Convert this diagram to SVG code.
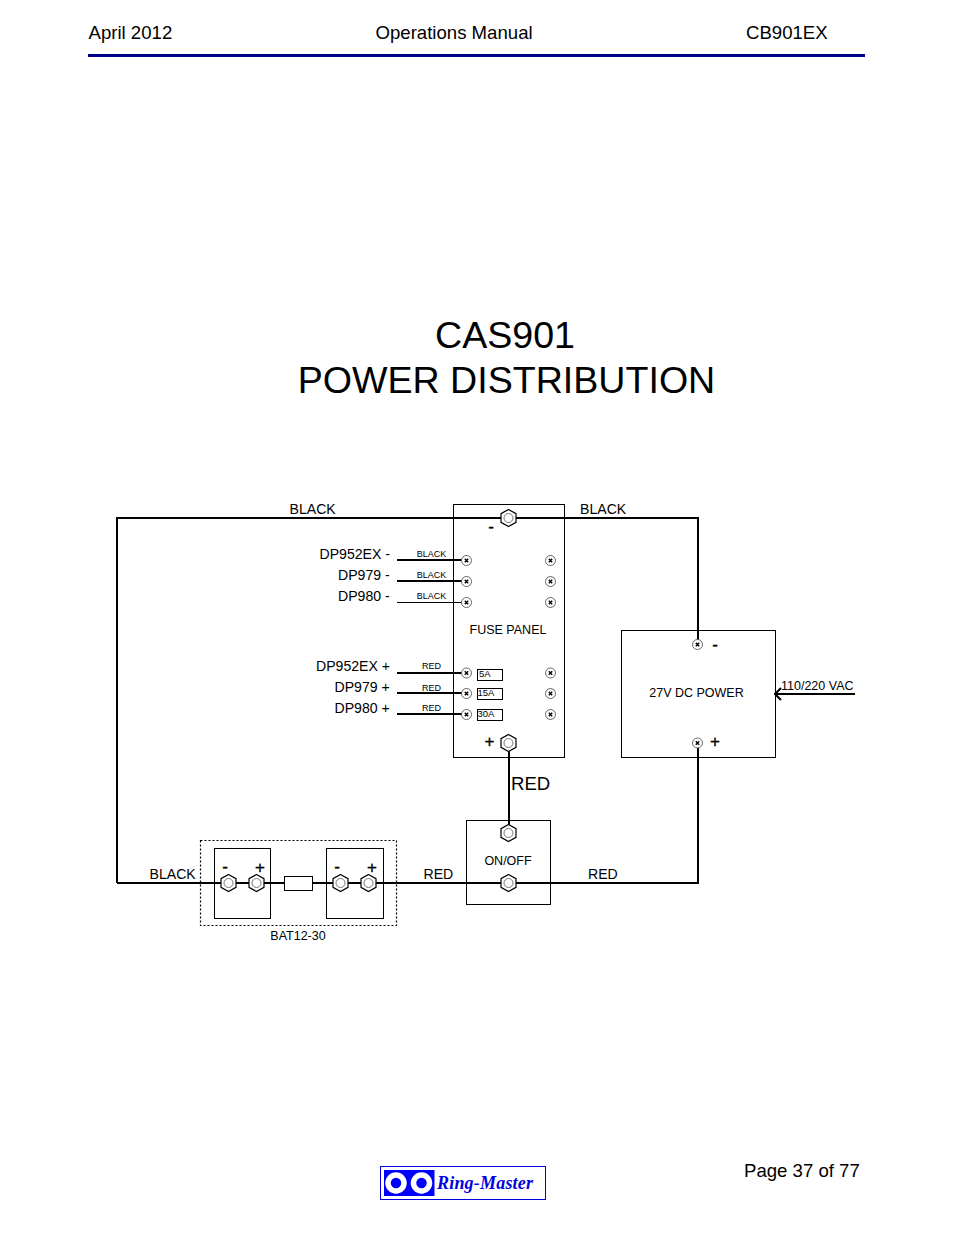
<svg xmlns="http://www.w3.org/2000/svg" width="954" height="1235" viewBox="0 0 954 1235">
<style>
text{font-family:"Liberation Sans",Arial,sans-serif;fill:#000}
.h{font-size:18.6px}
.t{font-size:37.6px;text-anchor:middle}
.l{font-size:14.1px}
.s{font-size:12.5px}
.xs{font-size:9px;text-anchor:middle}
.f{font-size:9.500px}
.m{text-anchor:middle}
.sym{font-size:17px;text-anchor:middle;stroke:#000;stroke-width:.35}
.box{fill:none;stroke:#000;stroke-width:1}
.w{fill:none;stroke:#000;stroke-width:2}
.n{fill:none;stroke:#000;stroke-width:1}
</style>
<defs>
<g id="screw"><circle r="5" fill="#fff" stroke="#444" stroke-width="0.8"/><path d="M-1.700-1.700L1.700 1.700M1.700-1.700L-1.700 1.700" stroke="#000" stroke-width="1.400"/></g>
<g id="nut"><path d="M0-8.500L7.500-4.300V4.300L0 8.500L-7.500 4.300V-4.300Z" fill="#fff" stroke="#000" stroke-width="1.200"/><circle r="4.500" fill="none" stroke="#777" stroke-width="1"/></g>
<marker id="arrow" markerWidth="9" markerHeight="14" refX="8" refY="7" orient="auto" markerUnits="userSpaceOnUse"><path d="M2 1L8 7L2 13" fill="none" stroke="#000" stroke-width="2"/></marker>
</defs>
<g id="header">
<text class="h" x="88.500" y="39">April 2012</text>
<text class="h" x="375.500" y="39">Operations Manual</text>
<text class="h" x="746" y="39">CB901EX</text>
<rect x="88" y="54" width="777" height="3" fill="#00008b"/>
</g>
<g id="title">
<text class="t" x="505" y="348">CAS901</text>
<text class="t" x="506.500" y="392.500">POWER DISTRIBUTION</text>
</g>
<g id="connectors">
<path class="w" d="M117 883V518H698V640M117 883H698V746M509 746V829"/>
<path class="w" d="M397 560H462M397 581H462M397 673H462M397 693H462M397 714H462"/>
<path class="n" d="M397 602.500H462"/>
<path class="w" d="M855 694H775" marker-end="url(#arrow)"/>
</g>
<g id="wire-labels">
<text class="l" x="289.500" y="514">BLACK</text>
<text class="l" x="580" y="514">BLACK</text>
<text class="l" x="149.500" y="879">BLACK</text>
<text class="l" x="423.500" y="879">RED</text>
<text class="l" x="588" y="879">RED</text>
<text x="511" y="790" style="font-size:18.6px">RED</text>
<text class="xs" x="431.500" y="557">BLACK</text>
<text class="xs" x="431.500" y="578">BLACK</text>
<text class="xs" x="431.500" y="599">BLACK</text>
<text class="xs" x="431.500" y="669">RED</text>
<text class="xs" x="431.500" y="691">RED</text>
<text class="xs" x="431.500" y="711">RED</text>
<text class="l" x="319.500" y="559">DP952EX -</text>
<text class="l" x="338" y="580">DP979 -</text>
<text class="l" x="338" y="601">DP980 -</text>
<text class="l" x="316" y="671">DP952EX +</text>
<text class="l" x="334.500" y="692">DP979 +</text>
<text class="l" x="334.500" y="713">DP980 +</text>
</g>
<g id="fuse-panel">
<rect class="box" x="453.500" y="504.500" width="111" height="253"/>
<use href="#nut" x="508.500" y="518"/>
<use href="#nut" x="508.500" y="743"/>
<text class="sym" x="491" y="532">-</text>
<text class="sym" x="489.500" y="747">+</text>
<use href="#screw" x="466.500" y="560.500"/><use href="#screw" x="550.500" y="560.500"/>
<use href="#screw" x="466.500" y="581.500"/><use href="#screw" x="550.500" y="581.500"/>
<use href="#screw" x="466.500" y="602.500"/><use href="#screw" x="550.500" y="602.500"/>
<use href="#screw" x="466.500" y="673"/><use href="#screw" x="550.500" y="673"/>
<use href="#screw" x="466.500" y="693.500"/><use href="#screw" x="550.500" y="693.500"/>
<use href="#screw" x="466.500" y="714.500"/><use href="#screw" x="550.500" y="714.500"/>
<text x="508" y="634" class="s m">FUSE PANEL</text>
<rect class="box" x="477.500" y="669.500" width="25" height="11"/>
<rect class="box" x="477.500" y="688.500" width="25" height="11"/>
<rect class="box" x="477.500" y="709.500" width="25" height="11"/>
<text class="f" x="479" y="677">5A</text>
<text class="f" x="477.500" y="696">15A</text>
<text class="f" x="477.500" y="717">30A</text>
</g>
<g id="power-supply">
<rect class="box" x="621.500" y="630.500" width="154" height="127"/>
<use href="#screw" x="697.500" y="644.500"/>
<use href="#screw" x="697.500" y="743"/>
<text class="sym" x="715" y="650">-</text>
<text class="sym" x="715" y="746.500">+</text>
<text class="s m" x="696.500" y="697">27V DC POWER</text>
<text class="s" x="781" y="690">110/220 VAC</text>
</g>
<g id="switch">
<rect class="box" x="466.500" y="820.500" width="84" height="84"/>
<use href="#nut" x="508.500" y="833"/>
<use href="#nut" x="508.500" y="883"/>
<text class="s m" x="508" y="865">ON/OFF</text>
</g>
<g id="battery">
<rect x="200.500" y="840.500" width="196" height="85" fill="none" stroke="#000" stroke-width="1.200" stroke-dasharray="2 2"/>
<rect class="box" x="214.500" y="848.500" width="56" height="70"/>
<rect class="box" x="326.500" y="848.500" width="57" height="70"/>
<rect x="284.500" y="876.500" width="28" height="14" fill="#fff" stroke="#000"/>
<use href="#nut" x="228.500" y="883"/>
<use href="#nut" x="256.500" y="883"/>
<use href="#nut" x="340.500" y="883"/>
<use href="#nut" x="368.500" y="883"/>
<text class="sym" x="225" y="872">-</text>
<text class="sym" x="260" y="872.500">+</text>
<text class="sym" x="337" y="872">-</text>
<text class="sym" x="372" y="872.500">+</text>
<text class="s m" x="298" y="940">BAT12-30</text>
</g>
<g id="footer">
<text class="h" x="744" y="1177">Page 37 of 77</text>
<rect x="380.500" y="1166.500" width="165" height="33" fill="none" stroke="#0000e0"/>
<rect x="384" y="1170" width="50.500" height="26" fill="#0000ff"/>
<circle cx="396" cy="1183" r="8" fill="#0000ff" stroke="#fff" stroke-width="5.500"/>
<circle cx="421.500" cy="1183" r="8" fill="#0000ff" stroke="#fff" stroke-width="5.500"/>
<text x="437" y="1189" style="font-family:'Liberation Serif',serif;font-style:italic;font-weight:bold;font-size:18px;fill:#0000e0" textLength="96" lengthAdjust="spacing">Ring-Master</text>
</g>
</svg>
